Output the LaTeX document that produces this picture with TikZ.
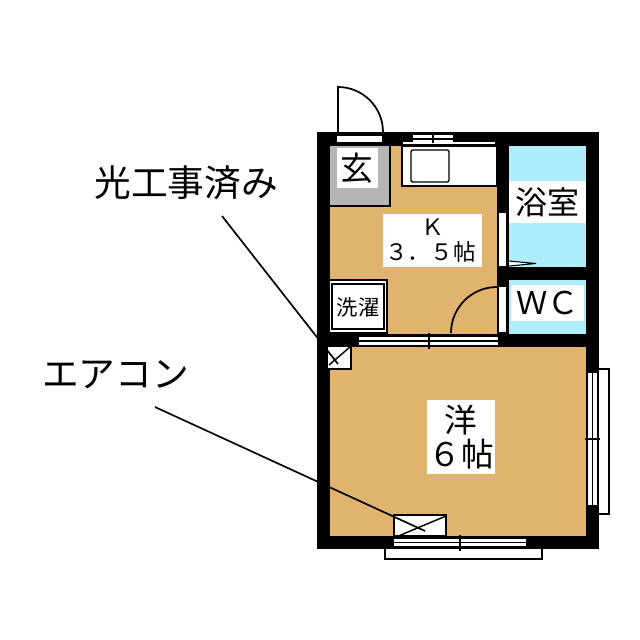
\documentclass[tikz,border=0pt]{standalone}
\usepackage{fontspec}
\usepackage{xcolor}
\usepackage{tikz}
\usetikzlibrary{positioning}
\setmainfont{Noto Sans CJK JP}
\definecolor{floorcol}{HTML}{E0B36E}
\definecolor{bathcol}{HTML}{AEEDFB}
\definecolor{entrycol}{HTML}{B5B5B5}

\begin{document}
\begin{tikzpicture}[
			x=0.75pt, y=-0.75pt,
			label/.style={fill=white, inner sep=0pt, align=center, text=black},
			callout/.style={inner sep=0pt, font=\fontsize{27.5}{29}\selectfont},
			fitting/.style={draw=black, fill=white, line width=1.1pt},
			glass/.style={draw=black, fill=white, line width=0.8pt},
			leader/.style={black, line width=1.25pt}
			]
			\useasboundingbox (0,0) rectangle (640,640);
			\fill[white] (0,0) rectangle (640,640);
			
			% Walls and floors
			\fill[black] (317,132) rectangle (599,549);
			\fill[floorcol] (330,146) rectangle (497,334);
			\fill[floorcol] (330,347) rectangle (586,536);
			\fill[bathcol] (509,146) rectangle (586,267);
			\fill[bathcol] (509,280) rectangle (586,334);
			\fill[entrycol] (330,146) rectangle (390,206);
			\draw[black, line width=1.1pt] (390,146) -- (390,206) -- (330,206);
			
			% Entrance door
			\draw[black, line width=1.3pt] (338,132) -- (338,87) arc[start angle=-90, end angle=0, radius=45];
			\fill[white] (337,136) rectangle (382,142);
			
			% Kitchen sink and top window
			\draw[fitting, line width=1.4pt] (402,146) rectangle (497,186);
			\draw[black, line width=1pt, rounded corners=1pt] (411,150) rectangle (449,182);
			\fill[white] (403,142) rectangle (495,144);
			\fill[white] (413,135) rectangle (453,143);
			\draw[black, line width=1pt] (413,139) -- (453,139);
			\draw[black, line width=1.2pt] (433,132) -- (433,143);
			
			% Inner doors
			\fill[white] (499,213) rectangle (506,266);
			\draw[glass] (509,261) -- (536,263.5) -- (509,266);
			\fill[white] (499,287) rectangle (506,332);
			\draw[black, line width=1.3pt] (497,287) arc[start angle=-90, end angle=-180, radius=46];
			
			% Washer place
			\draw[fitting, line width=0.9pt] (329,280) rectangle (387,333);
			\draw[black, line width=1.6pt] (332,284) rectangle (384,329);
			
			% Windows
			\fill[white] (359,337) rectangle (498,345);
			\draw[black, line width=0.9pt] (359,341) -- (498,341);
			\draw[black, line width=1.3pt] (429,333) -- (429,349);
			\draw[fitting] (599,369) -- (609,369) -- (609,514) -- (599,514);
			\fill[white] (588,373) rectangle (597,505);
			\draw[black, line width=0.9pt] (592.5,373) -- (592.5,505);
			\draw[black, line width=1.3pt] (585,439) -- (600,439);
			\draw[fitting] (385,549) -- (385,559) -- (542,559) -- (542,549);
			\fill[white] (394,539) rectangle (526,546);
			\draw[black, line width=0.9pt] (394,542.5) -- (526,542.5);
			\draw[black, line width=1.3pt] (460,535) -- (460,551);
			
			% Air conditioner boxes
			\fill[white] (328,347) rectangle (351,369);
			\draw[black, line width=1.1pt] (328,369) -- (351,369) -- (351,347);
			\draw[black, line width=1.1pt] (329,365) -- (350,347);
			\draw[fitting] (394,515) rectangle (446,536);
			\draw[black, line width=1.1pt] (396,537) -- (446,516);
			
			% Nodes
			\node (entry) [label, minimum width=41pt*0.75, minimum height=40pt*0.75, font=\fontsize{24.5}{26}\selectfont] at (357,168) {玄};
			\node (kitchen) [label, minimum width=99pt*0.75, minimum height=53pt*0.75, font=\fontsize{17}{19}\selectfont] at (432.5,240.5) {Ｋ\\\hspace*{-3pt}３．５帖};
			\node (bath) [label, minimum width=77pt*0.75, minimum height=42pt*0.75, font=\fontsize{24}{26}\selectfont] at (547.5,202) {浴室};
			\node (wc) [label, minimum width=73pt*0.75, minimum height=36pt*0.75, font=\fontsize{23.5}{25}\selectfont] at (547.5,303) {ＷＣ};
			\node (washer) [inner sep=0pt, font=\fontsize{16}{17}\selectfont] at (358,307) {洗濯};
			\node (western) [label, minimum width=68pt*0.75, minimum height=74pt*0.75, font=\fontsize{24.5}{26}\selectfont] at (461,437) {洋\\６帖};
			\node (koji) [callout] at (186,183) {光工事済み};
			\node (aircon) [callout] at (115.5,375) {エアコン};
			\coordinate (kojistart) at (222,216);
			\coordinate (kojiend) at (338,364);
			\coordinate (airconstart) at (155,407);
			\coordinate (airconend) at (425,531);
			
			% Connections
			\draw [leader] (kojistart) -- (kojiend);
			\draw [leader] (airconstart) -- (airconend);
			
		\end{tikzpicture}
\end{document}
